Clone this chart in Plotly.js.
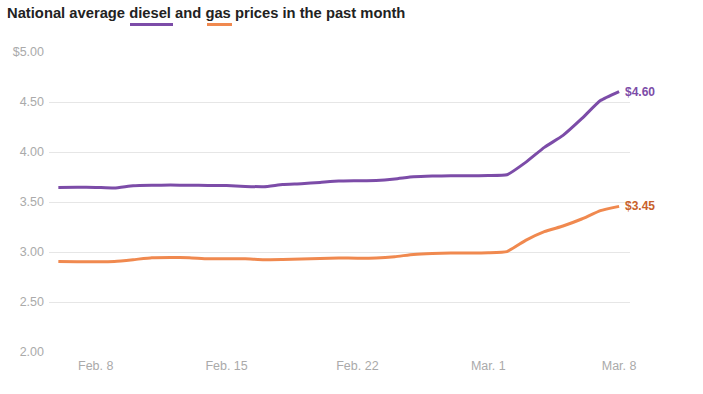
<!DOCTYPE html>
<html>
<head>
<meta charset="utf-8">
<script src="https://cdn.plot.ly/plotly-3.0.1.min.js"></script>
<style>html,body{margin:0;padding:0;background:#fff}#chart{width:703px;height:394px}</style>
</head>
<body>
<div id="chart"></div>
<script>
const dates = ["2022-02-06","2022-02-07","2022-02-08","2022-02-09","2022-02-10","2022-02-11","2022-02-12","2022-02-13","2022-02-14","2022-02-15","2022-02-16","2022-02-17","2022-02-18","2022-02-19","2022-02-20","2022-02-21","2022-02-22","2022-02-23","2022-02-24","2022-02-25","2022-02-26","2022-02-27","2022-02-28","2022-03-01","2022-03-02","2022-03-03","2022-03-04","2022-03-05","2022-03-06","2022-03-07","2022-03-08"];
const diesel = [3.646,3.647,3.646,3.640,3.663,3.668,3.669,3.668,3.666,3.664,3.656,3.653,3.674,3.683,3.696,3.710,3.713,3.716,3.730,3.752,3.760,3.762,3.762,3.764,3.772,3.896,4.046,4.166,4.333,4.514,4.604];
const gas = [2.906,2.903,2.903,2.906,2.923,2.943,2.946,2.943,2.933,2.933,2.932,2.923,2.926,2.930,2.936,2.940,2.938,2.940,2.953,2.976,2.986,2.989,2.989,2.992,3.004,3.116,3.203,3.260,3.330,3.413,3.456];
const dieselLabel = "$4.60";
const gasLabel = "$3.45";
const yTickVals = [2,2.5,3,3.5,4,4.5,5];
const yTickText = ["2.00","2.50","3.00","3.50","4.00","4.50","$5.00"];
const xTickVals = ["2022-02-08","2022-02-15","2022-02-22","2022-03-01","2022-03-08"];
const xTickText = ["Feb. 8","Feb. 15","Feb. 22","Mar. 1","Mar. 8"];

const purple = "#7c4ca8";
const orange = "#f0894f";
const orangeText = "#c9612b";

const traces = [
  {x: dates, y: gas, type: "scatter", mode: "lines", line: {color: orange, width: 3, shape: "spline", smoothing: 0.4}, hoverinfo: "skip"},
  {x: dates, y: diesel, type: "scatter", mode: "lines", line: {color: purple, width: 3, shape: "spline", smoothing: 0.4}, hoverinfo: "skip"}
];

const L = 49, R = 73, T = 52, B = 42, W = 703, H = 394;
const pw = W - L - R, ph = H - T - B;
const px = v => (v - L) / pw;
const py = v => (H - B - v) / ph;

const layout = {
  width: W, height: H,
  margin: {l: L, r: R, t: T, b: B},
  paper_bgcolor: "#fff", plot_bgcolor: "#fff",
  showlegend: false,
  font: {family: "Liberation Sans, Arial, sans-serif", size: 12, color: "#aaa"},
  title: {
    text: "<b>National average diesel and gas prices in the past month</b>",
    font: {family: "Liberation Sans, Arial, sans-serif", size: 14.75, color: "#222"},
    x: 7 / W, xref: "container", xanchor: "left",
    y: 1 - 8 / H, yref: "container", yanchor: "top"
  },
  xaxis: {
    type: "date",
    range: ["2022-02-05 12:00", "2022-03-08 14:00"],
    tickvals: xTickVals, ticktext: xTickText,
    showgrid: false, zeroline: false, showline: false, ticks: "",
    ticklabelstandoff: 4,
    tickfont: {size: 12.5, color: "#aaa"},
    fixedrange: true
  },
  yaxis: {
    range: [2, 5],
    tickvals: yTickVals, ticktext: yTickText,
    showgrid: true, gridcolor: "#e6e6e6", gridwidth: 1,
    zeroline: false, showline: false, ticks: "",
    ticklabelstandoff: 4,
    tickfont: {size: 12.5, color: "#aaa"},
    fixedrange: true
  },
  shapes: [
    {type: "line", xref: "paper", yref: "paper", x0: px(130), x1: px(173), y0: py(24.5), y1: py(24.5), line: {color: purple, width: 3}},
    {type: "line", xref: "paper", yref: "paper", x0: px(207), x1: px(232), y0: py(24.5), y1: py(24.5), line: {color: orange, width: 3}}
  ],
  annotations: [
    {x: dates[dates.length - 1], y: diesel[diesel.length - 1], text: "<b>" + dieselLabel + "</b>", showarrow: false, xanchor: "left", yanchor: "middle", xshift: 4, font: {size: 12, color: purple}},
    {x: dates[dates.length - 1], y: gas[gas.length - 1], text: "<b>" + gasLabel + "</b>", showarrow: false, xanchor: "left", yanchor: "middle", xshift: 4, font: {size: 12, color: orangeText}}
  ]
};

Plotly.newPlot("chart", traces, layout, {displayModeBar: false, staticPlot: true});
</script>
</body>
</html>
